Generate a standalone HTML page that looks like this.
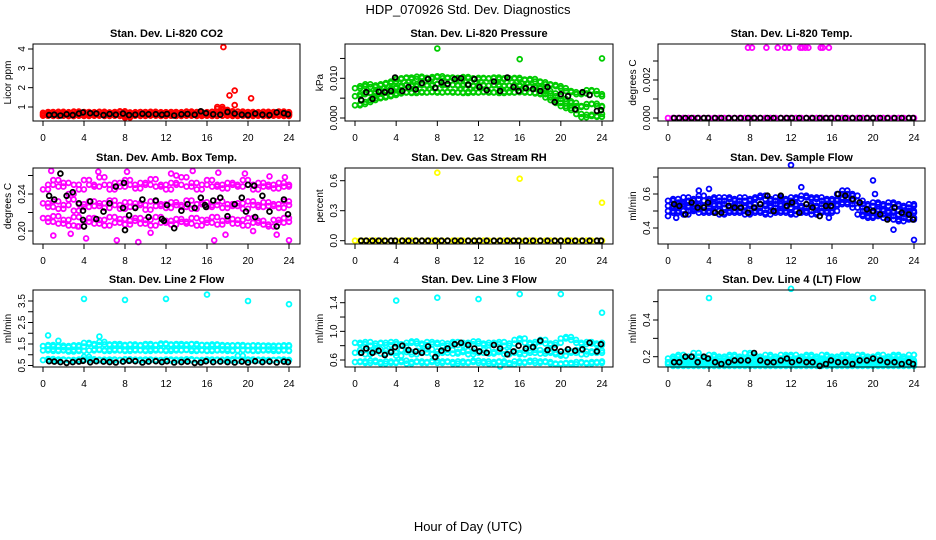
<!DOCTYPE html>
<html><head><meta charset="utf-8">
<style>
html,body{margin:0;padding:0;background:#fff;}
svg{display:block;font-family:"Liberation Sans",sans-serif;}
</style></head>
<body>
<svg id="chart" width="936" height="540" viewBox="0 0 936 540" xmlns="http://www.w3.org/2000/svg">
<text x="468" y="14" text-anchor="middle" font-size="13">HDP_070926  Std. Dev. Diagnostics</text>
<text x="468" y="531" text-anchor="middle" font-size="13">Hour of Day (UTC)</text>
</svg>
<script>
// ---- data ----
const hours = [0,0.5,1,1.5,2,2.5,3,3.5,4,4.5,5,5.5,6,6.5,7,7.5,8,8.5,9,9.5,10,10.5,11,11.5,12,12.5,13,13.5,14,14.5,15,15.5,16,16.5,17,17.5,18,18.5,19,19.5,20,20.5,21,21.5,22,22.5,23,23.5,24];
const blackHours = [0.6,1.1,1.7,2.3,2.9,3.5,3.9,4.6,5.2,5.9,6.5,7.1,7.8,8.4,9.0,9.7,10.3,11.0,11.6,12.1,12.8,13.5,14.1,14.8,15.4,15.9,16.6,17.3,18.0,18.7,19.4,20.0,20.7,21.4,22.1,22.8,23.5,23.9];
const xTickValues = [0,4,8,12,16,20,24];

const co2Hi = [0.70,0.74,0.72,0.75,0.71,0.73,0.76,0.72,0.74,0.70,0.73,0.75,0.72,0.71,0.74,0.78,0.72,0.70,0.73,0.74,0.72,0.75,0.71,0.73,0.72,0.74,0.70,0.73,0.76,0.72,0.74,0.71,0.73,0.75,1.0,0.85,0.78,0.74,0.76,0.72,0.74,0.71,0.73,0.75,0.72,0.74,0.76,0.73,0.71];
const co2Mid = [0.62,0.64,0.63,0.61,0.65,0.62,0.64,0.63,0.62,0.64,0.61,0.63,0.65,0.62,0.64,0.63,0.61,0.63,0.62,0.64,0.63,0.62,0.65,0.63,0.62,0.64,0.63,0.61,0.64,0.62,0.63,0.65,0.62,0.64,0.90,0.70,0.66,0.63,0.64,0.62,0.63,0.65,0.62,0.64,0.63,0.62,0.64,0.63,0.62];
const co2Lo = [0.55,0.56,0.54,0.57,0.55,0.53,0.56,0.55,0.54,0.56,0.55,0.57,0.54,0.55,0.56,0.54,0.46,0.55,0.56,0.54,0.55,0.57,0.55,0.54,0.56,0.55,0.54,0.56,0.55,0.57,0.54,0.56,0.55,0.54,0.56,0.55,0.57,0.54,0.55,0.56,0.54,0.55,0.56,0.54,0.55,0.57,0.55,0.54,0.56];
const co2Black = [0.58,0.60,0.56,0.62,0.58,0.66,0.72,0.68,0.66,0.58,0.64,0.60,0.66,0.58,0.60,0.65,0.62,0.63,0.60,0.64,0.56,0.62,0.64,0.60,0.78,0.68,0.62,0.60,0.74,0.66,0.60,0.58,0.66,0.60,0.58,0.72,0.68,0.62];
const co2OutX = [17.6,18.2,18.7,18.7,20.3,8.0];
const co2OutY = [4.1,1.6,1.85,1.1,1.45,0.45];

const presHi = [.0075,.0080,.0085,.0078,.0082,.0085,.0088,.0092,.0098,.0100,.0102,.0098,.0104,.0101,.0099,.0103,.0105,.0100,.0102,.0101,.0099,.0103,.0100,.0098,.0101,.0099,.0100,.0102,.0098,.0100,.0099,.0101,.0097,.0095,.0098,.0092,.0090,.0085,.0083,.0080,.0075,.0068,.0065,.0060,.0062,.0070,.0068,.0060,.0055];
const presMid = [.0055,.0060,.0064,.0062,.0066,.0068,.0070,.0074,.0078,.0082,.0084,.0080,.0085,.0083,.0081,.0085,.0086,.0082,.0084,.0083,.0081,.0085,.0082,.0080,.0083,.0081,.0082,.0084,.0080,.0082,.0081,.0083,.0080,.0078,.0080,.0076,.0074,.0068,.0062,.0055,.0048,.0042,.0038,.0030,.0028,.0035,.0036,.0030,.0028];
const presLo = [.0032,.0035,.0040,.0045,.0050,.0052,.0055,.0058,.0062,.0064,.0065,.0063,.0066,.0064,.0065,.0066,.0064,.0065,.0066,.0064,.0065,.0063,.0066,.0064,.0065,.0066,.0064,.0065,.0063,.0066,.0064,.0065,.0066,.0064,.0064,.0062,.0060,.0052,.0045,.0038,.0030,.0025,.0020,.0010,.0002,.0008,.0005,.0003,.0010];
const presBlack = [.0045,.0065,.0048,.0066,.0065,.0068,.0102,.0068,.0078,.0072,.0088,.0098,.0076,.0090,.0086,.0098,.0100,.0084,.0098,.0078,.0070,.0092,.0068,.0102,.0078,.0068,.0075,.0073,.0068,.0078,.0040,.0060,.0055,.0022,.0065,.0058,.0018,.0020];
const presOutX = [8.0,16.0,24.0];
const presOutY = [.0175,.0148,.0150];

const zeros49 = [0,0,0,0,0,0,0,0,0,0,0,0,0,0,0,0,0,0,0,0,0,0,0,0,0,0,0,0,0,0,0,0,0,0,0,0,0,0,0,0,0,0,0,0,0,0,0,0,0];
const zeros38 = [0,0,0,0,0,0,0,0,0,0,0,0,0,0,0,0,0,0,0,0,0,0,0,0,0,0,0,0,0,0,0,0,0,0,0,0,0,0];
const tempOutX = [7.8,8.2,9.6,10.7,11.4,11.8,12.9,13.1,13.4,13.7,14.9,15.1,15.7];
const tempOutY = [.0037,.0037,.0037,.0037,.0037,.0037,.0037,.0037,.0037,.0037,.0037,.0037,.0037];

const ambHi = [.245,.250,.255,.248,.252,.240,.250,.245,.255,.250,.248,.258,.250,.245,.252,.248,.255,.250,.246,.252,.250,.256,.248,.250,.245,.252,.250,.258,.248,.252,.245,.250,.255,.248,.250,.246,.252,.250,.248,.255,.250,.245,.252,.248,.250,.246,.252,.248,.250];
const ambMid = [.230,.226,.232,.224,.228,.234,.222,.229,.226,.232,.227,.230,.225,.233,.228,.224,.231,.226,.230,.228,.223,.232,.227,.229,.225,.231,.228,.226,.233,.224,.229,.231,.226,.228,.232,.225,.229,.227,.230,.224,.232,.228,.226,.231,.227,.229,.225,.232,.228];
const ambLo = [.214,.210,.216,.208,.212,.206,.215,.205,.210,.214,.208,.212,.206,.215,.209,.213,.207,.211,.214,.208,.212,.206,.215,.209,.211,.207,.213,.210,.208,.214,.206,.212,.209,.215,.207,.211,.213,.208,.212,.206,.214,.209,.211,.207,.205,.212,.209,.214,.210];
const ambOutX = [0.8,1.0,2.7,4.2,5.4,7.2,8.2,9.3,10.5,12.5,14.6,16.7,17.1,17.8,19.7,20.5,22.1,22.8,23.6,24.0,3.4,13.0];
const ambOutY = [.265,.195,.197,.192,.264,.190,.264,.188,.198,.262,.265,.190,.263,.196,.262,.200,.259,.196,.258,.190,.205,.260];
const ambBlack = [.238,.234,.262,.238,.242,.230,.222,.232,.213,.221,.230,.248,.225,.217,.225,.234,.215,.233,.213,.228,.203,.222,.229,.225,.236,.226,.233,.236,.216,.229,.236,.250,.215,.238,.221,.205,.234,.218];
const ambBlackExtraX = [3.9,4.0,7.9,8.0,11.8,15.8,19.8,20.6];
const ambBlackExtraY = [.212,.205,.252,.201,.211,.228,.221,.249];

const rhOutX = [8.0,16.0,24.0];
const rhOutY = [0.68,0.62,0.38];

const flowHi = [.56,.57,.55,.58,.56,.57,.59,.56,.57,.58,.56,.58,.57,.56,.58,.56,.57,.58,.59,.57,.56,.58,.57,.56,.58,.57,.59,.58,.57,.58,.56,.57,.56,.60,.62,.60,.59,.56,.54,.53,.55,.54,.53,.55,.54,.53,.52,.54,.53];
const flowMid = [.53,.52,.54,.53,.52,.54,.53,.52,.54,.53,.54,.52,.53,.54,.52,.53,.54,.52,.54,.53,.52,.54,.53,.52,.54,.53,.52,.54,.53,.52,.54,.52,.53,.57,.58,.57,.56,.52,.50,.49,.50,.51,.50,.49,.50,.48,.49,.50,.49];
const flowLo = [.50,.49,.50,.48,.50,.51,.49,.50,.49,.50,.48,.49,.50,.49,.50,.48,.49,.50,.49,.48,.50,.49,.50,.49,.48,.50,.49,.50,.48,.49,.50,.49,.50,.54,.55,.54,.52,.48,.47,.46,.47,.48,.46,.47,.45,.44,.46,.45,.46];
const flowOutX = [12.0,20.0,24.0,13.0,4.0,3.0,22.0,0.0,0.8,1.6,15.7,20.2];
const flowOutY = [.77,.68,.33,.64,.63,.62,.39,.47,.46,.48,.46,.60];
const flowBlack = [.54,.53,.48,.55,.52,.52,.55,.49,.49,.53,.52,.52,.49,.52,.54,.59,.50,.59,.53,.55,.49,.54,.52,.47,.53,.53,.60,.59,.57,.55,.51,.50,.48,.45,.52,.49,.48,.45];

const l2Hi = [1.40,1.45,1.38,1.42,1.35,1.40,1.44,1.38,1.55,1.50,1.45,1.60,1.48,1.44,1.50,1.42,1.46,1.48,1.42,1.45,1.50,1.44,1.46,1.52,1.48,1.45,1.50,1.43,1.48,1.50,1.44,1.46,1.42,1.48,1.45,1.40,1.44,1.42,1.45,1.40,1.42,1.44,1.40,1.43,1.38,1.42,1.40,1.44,1.40];
const l2Mid = [1.20,1.25,1.18,1.22,1.20,1.15,1.22,1.18,0.90,1.20,1.25,1.22,1.18,1.25,1.20,1.22,1.18,1.24,1.20,1.22,1.18,1.25,1.20,1.22,1.18,1.25,1.20,1.22,1.24,1.18,1.22,1.20,1.18,1.22,1.20,1.25,1.18,1.20,0.95,1.22,1.20,1.18,1.22,1.20,1.25,1.18,1.22,1.20,1.18];
const l2Lo = [0.75,0.80,0.72,0.78,0.74,0.76,0.73,0.78,0.75,0.79,0.74,0.77,0.73,0.78,0.75,0.76,0.79,0.74,0.77,0.73,0.78,0.75,0.76,0.74,0.78,0.73,0.77,0.75,0.79,0.74,0.76,0.73,0.78,0.75,0.77,0.74,0.79,0.73,0.76,0.75,0.78,0.74,0.77,0.73,0.76,0.75,0.78,0.74,0.76];
const l2OutX = [4.0,8.0,12.0,16.0,20.0,24.0,0.5,5.5,1.5];
const l2OutY = [3.6,3.55,3.6,3.8,3.5,3.35,1.9,1.85,1.65];
const l2Black = [0.70,0.68,0.66,0.62,0.66,0.68,0.72,0.65,0.70,0.68,0.66,0.64,0.68,0.72,0.70,0.64,0.68,0.70,0.66,0.70,0.64,0.66,0.68,0.62,0.64,0.70,0.66,0.68,0.66,0.64,0.68,0.64,0.70,0.66,0.68,0.64,0.68,0.66];

const l3Hi = [0.84,0.82,0.85,0.80,0.83,0.84,0.81,0.85,0.82,0.80,0.84,0.86,0.83,0.81,0.85,0.82,0.84,0.80,0.83,0.85,0.81,0.84,0.82,0.86,0.83,0.81,0.84,0.82,0.85,0.80,0.83,0.88,0.90,0.84,0.82,0.85,0.88,0.83,0.81,0.84,0.90,0.92,0.88,0.84,0.82,0.85,0.83,0.81,0.84];
const l3Mid = [0.70,0.74,0.68,0.72,0.75,0.69,0.73,0.70,0.66,0.74,0.71,0.68,0.73,0.70,0.75,0.68,0.72,0.70,0.74,0.69,0.71,0.73,0.68,0.72,0.70,0.74,0.69,0.71,0.73,0.68,0.72,0.70,0.68,0.73,0.70,0.74,0.69,0.72,0.70,0.68,0.66,0.72,0.70,0.74,0.68,0.72,0.70,0.73,0.70];
const l3Lo = [0.57,0.58,0.56,0.59,0.57,0.55,0.58,0.56,0.57,0.59,0.55,0.57,0.58,0.56,0.57,0.59,0.56,0.58,0.57,0.55,0.58,0.56,0.57,0.59,0.56,0.58,0.55,0.57,0.58,0.56,0.54,0.58,0.56,0.57,0.59,0.56,0.58,0.57,0.55,0.54,0.55,0.56,0.54,0.57,0.56,0.55,0.57,0.56,0.58];
const l3OutX = [4.0,8.0,12.0,16.0,20.0,24.0,14.1];
const l3OutY = [1.43,1.47,1.45,1.52,1.52,1.26,0.51];
const l3Black = [0.70,0.76,0.70,0.73,0.67,0.71,0.78,0.80,0.74,0.72,0.70,0.79,0.64,0.73,0.76,0.82,0.84,0.81,0.76,0.72,0.70,0.81,0.76,0.68,0.72,0.80,0.76,0.78,0.87,0.74,0.77,0.72,0.75,0.73,0.75,0.84,0.72,0.82];

const l4Hi = [0.19,0.20,0.21,0.19,0.20,0.22,0.20,0.19,0.21,0.20,0.19,0.20,0.21,0.20,0.19,0.22,0.21,0.20,0.19,0.21,0.20,0.19,0.21,0.20,0.21,0.19,0.20,0.21,0.20,0.19,0.21,0.20,0.19,0.20,0.21,0.20,0.19,0.21,0.20,0.19,0.20,0.21,0.19,0.20,0.21,0.20,0.19,0.21,0.21];
const l4Mid = [0.17,0.18,0.17,0.18,0.17,0.18,0.17,0.18,0.17,0.18,0.17,0.18,0.17,0.18,0.17,0.18,0.17,0.18,0.17,0.18,0.17,0.18,0.17,0.18,0.17,0.18,0.17,0.18,0.17,0.18,0.17,0.18,0.17,0.18,0.17,0.18,0.17,0.18,0.17,0.18,0.17,0.18,0.17,0.18,0.17,0.18,0.17,0.18,0.17];
const l4Lo = [0.16,0.15,0.16,0.15,0.16,0.15,0.16,0.15,0.16,0.15,0.16,0.15,0.16,0.15,0.16,0.15,0.16,0.15,0.16,0.15,0.16,0.15,0.16,0.15,0.16,0.15,0.16,0.15,0.16,0.15,0.16,0.15,0.16,0.15,0.16,0.15,0.16,0.15,0.16,0.15,0.16,0.15,0.16,0.15,0.16,0.15,0.16,0.15,0.16];
const l4OutX = [4.0,12.0,20.0];
const l4OutY = [0.52,0.57,0.52];
const l4Black = [0.17,0.17,0.20,0.20,0.17,0.20,0.19,0.17,0.16,0.17,0.18,0.18,0.18,0.22,0.18,0.17,0.17,0.18,0.19,0.17,0.18,0.17,0.17,0.15,0.16,0.18,0.17,0.17,0.16,0.18,0.18,0.19,0.18,0.17,0.17,0.16,0.17,0.16];

// ---- layout/config ----
const colL=[33,345,658], colR=[300,613,925], rowT=[44,168,290], rowB=[121,244,367];
const panels = [
 {name:'co2',title:'Stan. Dev. Li-820 CO2',ylab:'Licor ppm',c:0,r:0,color:'#ff0000',cal:[1,107,4,49],ticks:[1,2,3,4],labels:['1','2','3','4'],series:[co2Hi,co2Mid,co2Lo],black:co2Black,ox:co2OutX,oy:co2OutY},
 {name:'pressure',title:'Stan. Dev. Li-820 Pressure',ylab:'kPa',c:1,r:0,color:'#00cc00',cal:[0,118,0.01,78.3],ticks:[0,0.005,0.01,0.015],labels:['0.000','','0.010',''],series:[presHi,presMid,presLo],black:presBlack,ox:presOutX,oy:presOutY},
 {name:'temp',title:'Stan. Dev. Li-820 Temp.',ylab:'degrees C',c:2,r:0,color:'#ff00ff',cal:[0,118,0.002,80],ticks:[0,0.001,0.002,0.003],labels:['0.000','','0.002',''],series:[zeros49],black:zeros38,ox:tempOutX,oy:tempOutY},
 {name:'amb-box-temp',title:'Stan. Dev. Amb. Box Temp.',ylab:'degrees C',c:0,r:1,color:'#ff00ff',cal:[0.2,231,0.24,194],ticks:[0.2,0.22,0.24,0.26],labels:['0.20','','0.24',''],series:[ambHi,ambMid,ambLo],black:ambBlack,ox:ambOutX,oy:ambOutY,bx2:ambBlackExtraX,by2:ambBlackExtraY},
 {name:'gas-rh',title:'Stan. Dev. Gas Stream RH',ylab:'percent',c:1,r:1,color:'#ffff00',cal:[0,240.7,0.6,180.7],ticks:[0,0.3,0.6],labels:['0.0','0.3','0.6'],series:[zeros49],black:zeros38,ox:rhOutX,oy:rhOutY},
 {name:'sample-flow',title:'Stan. Dev. Sample Flow',ylab:'ml/min',c:2,r:1,color:'#0000ff',cal:[0.4,228,0.6,194],ticks:[0.4,0.5,0.6,0.7],labels:['0.4','','0.6',''],series:[flowHi,flowMid,flowLo],black:flowBlack,ox:flowOutX,oy:flowOutY},
 {name:'line2-flow',title:'Stan. Dev. Line 2 Flow',ylab:'ml/min',c:0,r:2,color:'#00ffff',cal:[0.5,365.5,3.5,301],ticks:[0.5,1,1.5,2,2.5,3,3.5],labels:['0.5','','1.5','','2.5','','3.5'],series:[l2Hi,l2Mid,l2Lo],black:l2Black,ox:l2OutX,oy:l2OutY},
 {name:'line3-flow',title:'Stan. Dev. Line 3 Flow',ylab:'ml/min',c:1,r:2,color:'#00ffff',cal:[0.6,360,1.4,302.7],ticks:[0.6,0.8,1.0,1.2,1.4],labels:['0.6','','1.0','','1.4'],series:[l3Hi,l3Mid,l3Lo],black:l3Black,ox:l3OutX,oy:l3OutY},
 {name:'line4-flow',title:'Stan. Dev. Line 4 (LT) Flow',ylab:'ml/min',c:2,r:2,color:'#00ffff',cal:[0.2,356.7,0.4,320],ticks:[0.2,0.3,0.4,0.5],labels:['0.2','','0.4',''],series:[l4Hi,l4Mid,l4Lo],black:l4Black,ox:l4OutX,oy:l4OutY}
];

const NS='http://www.w3.org/2000/svg';
const svg=document.getElementById('chart');
function mk(tag,attrs,parent){const e=document.createElementNS(NS,tag);for(const k in attrs)e.setAttribute(k,attrs[k]);(parent||svg).appendChild(e);return e;}

panels.forEach(p=>{
  const L=colL[p.c],R=colR[p.c],T=rowT[p.r],B=rowB[p.r];
  const xs=v=>L+10+v*(R-L-21)/24;
  const ys=v=>p.cal[1]+(v-p.cal[0])*(p.cal[3]-p.cal[1])/(p.cal[2]-p.cal[0]);
  const g=mk('g',{});
  
  
  const t=mk('text',{x:(L+R)/2,y:T-7,'text-anchor':'middle','font-size':'11','font-weight':'bold'},g);
  t.textContent=p.title;
  
  
  const yl=mk('text',{x:0,y:0,transform:`translate(${L-22},${(T+B)/2}) rotate(-90)`,'text-anchor':'middle','font-size':'10'},g);
  yl.textContent=p.ylab;
  
  
  const pts=mk('g',{},g);
  
  
  function dot(px,y,col,name){
    const c=mk('circle',{cx:px.toFixed(1),cy:ys(y).toFixed(1),r:2.4,fill:'none',stroke:col,'stroke-width':1.8},pts);
    
    
  }
  p.series.forEach(s=>s.forEach((v,i)=>{
    dot(xs(hours[i]),v,p.color,p.name+'-point');
    if(i<s.length-1) dot(xs(hours[i])+5,v,p.color,p.name+'-point');
  }));
  p.ox.forEach((x,i)=>dot(xs(x),p.oy[i],p.color,p.name+'-outlier'));
  p.black.forEach((v,i)=>dot(xs(blackHours[i]),v,'#000',p.name+'-black-point'));
  if(p.bx2)p.bx2.forEach((x,i)=>dot(xs(x),p.by2[i],'#000',p.name+'-black-point'));
  const box=mk('rect',{x:L,y:T,width:R-L,height:B-T,fill:'none',stroke:'#000','stroke-width':1},g);
  
  
  xTickValues.forEach(v=>{
    const x=xs(v);
    const tk=mk('line',{x1:x,x2:x,y1:B,y2:B+5,stroke:'#000'},g);
    
    
    const lb=mk('text',{x:x,y:B+20,'text-anchor':'middle','font-size':'10'},g);
    lb.textContent=String(v);
    
    
  });
  p.ticks.forEach((v,i)=>{
    const y=ys(v);
    const tk=mk('line',{x1:L-5,x2:L,y1:y,y2:y,stroke:'#000'},g);
    
    
    if(p.labels[i]){
      const lb=mk('text',{x:0,y:0,transform:`translate(${L-8},${y}) rotate(-90)`,'text-anchor':'middle','font-size':'10'},g);
      lb.textContent=p.labels[i];
      
      
    }
  });
});
</script>
</body></html>
